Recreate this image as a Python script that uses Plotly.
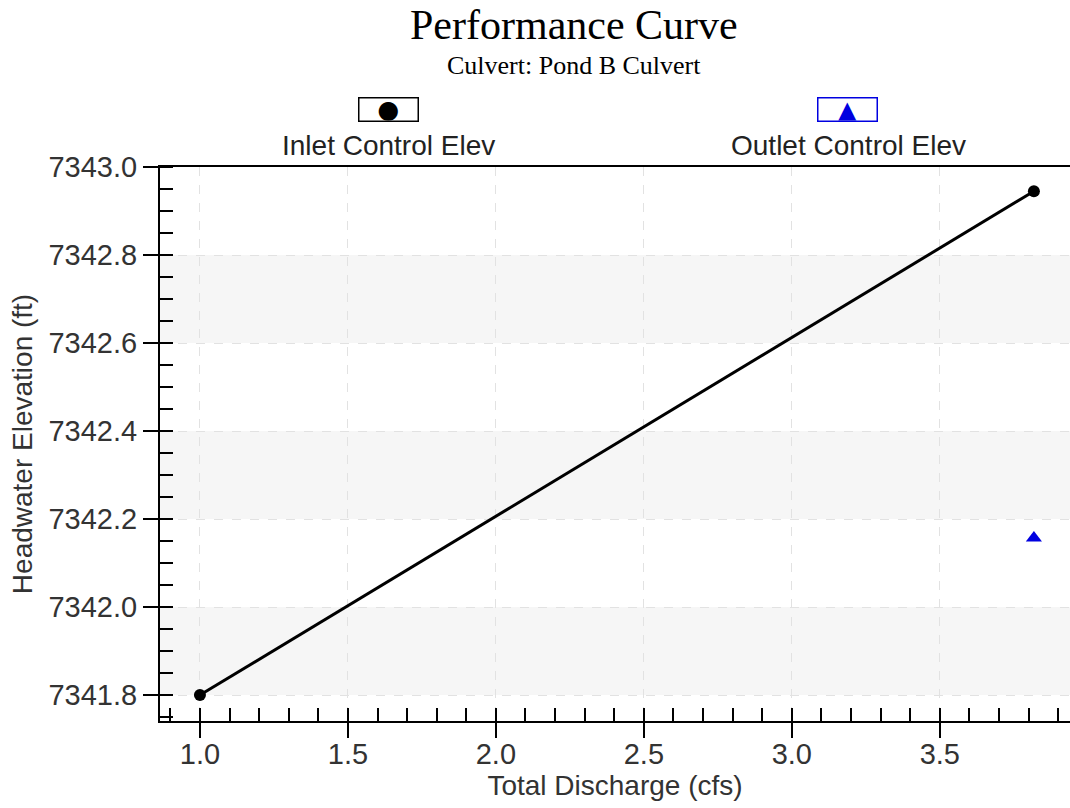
import plotly.graph_objects as go

# Data
inlet_q = [1.0, 3.818]
inlet_elev = [7341.80, 7342.945]
outlet_q = [3.818]
outlet_elev = [7342.157]

x_ticks = [1.0, 1.5, 2.0, 2.5, 3.0, 3.5]
y_ticks = [7341.8, 7342.0, 7342.2, 7342.4, 7342.6, 7342.8, 7343.0]
band_starts = [7341.8, 7342.2, 7342.6]  # shaded bands (0.2 wide)
band_width = 0.2

fig = go.Figure()
fig.add_trace(go.Scatter(x=inlet_q, y=inlet_elev, mode="lines+markers",
                         name="Inlet Control Elev",
                         line=dict(color="black", width=3),
                         marker=dict(symbol="circle", size=12, color="black")))
fig.add_trace(go.Scatter(x=outlet_q, y=outlet_elev, mode="markers",
                         name="Outlet Control Elev",
                         marker=dict(symbol="triangle-up", size=14, color="#0000e0")))

for b in band_starts:
    fig.add_shape(type="rect", xref="paper", yref="y", x0=0, x1=1, y0=b, y1=b + band_width,
                  fillcolor="#f6f6f6", line=dict(width=0), layer="below")

sans = "Liberation Sans, Arial, sans-serif"
tickfont = dict(family=sans, size=29, color="#333333")
titlefont = dict(family=sans, size=28, color="#333333")
fig.update_xaxes(range=[0.865, 3.94], tickvals=x_ticks, ticktext=[f"{v:.1f}" for v in x_ticks],
                 ticks="outside", ticklen=15, tickwidth=2, tickcolor="black",
                 ticklabelstandoff=-9,
                 showline=True, linecolor="black", linewidth=2, mirror=True,
                 showgrid=True, gridcolor="#e2e2e2", griddash="dash", gridwidth=1,
                 zeroline=False, tickfont=tickfont,
                 minor=dict(dtick=0.1, tick0=0.9, ticks="inside", ticklen=13, tickwidth=1.5,
                            tickcolor="black", showgrid=False),
                 title=dict(text="Total Discharge (cfs)", font=titlefont, standoff=2))
fig.update_yaxes(range=[7341.741, 7343.0], tickvals=y_ticks, ticktext=[f"{v:.1f}" for v in y_ticks],
                 ticks="outside", ticklen=15, tickwidth=2, tickcolor="black",
                 ticklabelstandoff=0,
                 showline=True, linecolor="black", linewidth=2,
                 showgrid=True, gridcolor="#e2e2e2", griddash="dash", gridwidth=1,
                 zeroline=False, tickfont=tickfont,
                 minor=dict(dtick=0.05, tick0=7341.8, ticks="inside", ticklen=13, tickwidth=1.5,
                            tickcolor="black", showgrid=False),
                 title=dict(text="Headwater Elevation (ft)", font=titlefont, standoff=8))

serif = "Liberation Serif, Times New Roman, serif"
annotations = [
    dict(text="Performance Curve", x=574, y=25, font=dict(family=serif, size=42, color="black")),
    dict(text="Culvert: Pond B Culvert", x=574, y=65, font=dict(family=serif, size=26, color="black")),
    dict(text="Inlet Control Elev", x=388, y=146, font=dict(family=sans, size=28, color="#222")),
    dict(text="Outlet Control Elev", x=848, y=146, font=dict(family=sans, size=28, color="#222")),
]
ann_objs = []
for a in annotations:
    ann_objs.append(dict(text=a["text"], xref="paper", yref="paper",
                         x=(a["x"] - 160) / 910, y=(721 - a["y"]) / 554,
                         xanchor="center", yanchor="middle", showarrow=False, font=a["font"]))
# legend boxes
ann_objs.append(dict(text="●", xref="paper", yref="paper", x=(388 - 160) / 910, y=(721 - 109) / 554,
                     xanchor="center", yanchor="middle", showarrow=False, width=58, height=22,
                     bordercolor="black", borderwidth=1.5, borderpad=0,
                     font=dict(size=25, color="black", family="DejaVu Sans")))
ann_objs.append(dict(text="▲", xref="paper", yref="paper", x=(847 - 160) / 910, y=(721 - 109) / 554,
                     xanchor="center", yanchor="middle", showarrow=False, width=58, height=22,
                     bordercolor="#0000e0", borderwidth=1.5, borderpad=0,
                     font=dict(size=24, color="#0000e0", family="DejaVu Sans")))

fig.update_layout(width=1070, height=808, margin=dict(l=160, r=0, t=167, b=87),
                  paper_bgcolor="white", plot_bgcolor="white", showlegend=False,
                  annotations=ann_objs)

# remove the default page margin so the figure fills the 1070x808 window exactly
fig.write_html("out.html", config={"displayModeBar": False},
               post_script="document.body.style.margin='0';document.body.style.overflow='hidden';")
